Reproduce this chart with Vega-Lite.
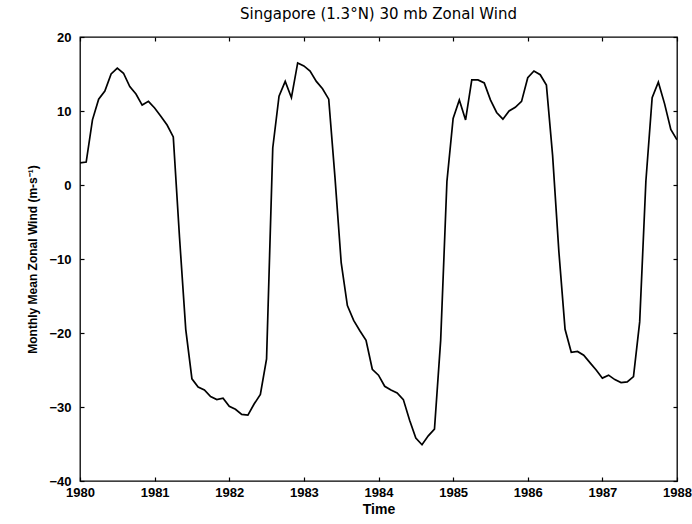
{
  "$schema": "https://vega.github.io/schema/vega-lite/v6.json",
  "width": 597,
  "height": 444,
  "autosize": {"type": "none"},
  "padding": {"left": 80, "top": 37, "right": 15, "bottom": 43},
  "background": "white",
  "title": {
    "text": "Singapore (1.3°N) 30 mb Zonal Wind",
    "font": "DejaVu Sans",
    "fontSize": 15,
    "fontWeight": "normal",
    "color": "black",
    "offset": 9
  },
  "config": {
    "view": {"stroke": "black", "strokeWidth": 1.3},
    "axis": {
      "grid": false,
      "domain": false,
      "labelFont": "Liberation Sans",
      "labelFontSize": 13,
      "labelFontWeight": "bold",
      "labelColor": "black",
      "titleFont": "Liberation Sans",
      "titleFontSize": 12,
      "titleFontWeight": "bold",
      "titleColor": "black"
    }
  },
  "data": {
    "values": [
      {"t": 1980.000, "u": 3.0}, {"t": 1980.083, "u": 3.1}, {"t": 1980.167, "u": 8.8},
      {"t": 1980.250, "u": 11.6}, {"t": 1980.333, "u": 12.7}, {"t": 1980.417, "u": 15.0},
      {"t": 1980.500, "u": 15.8}, {"t": 1980.583, "u": 15.1}, {"t": 1980.667, "u": 13.3},
      {"t": 1980.750, "u": 12.3}, {"t": 1980.833, "u": 10.8}, {"t": 1980.917, "u": 11.3},
      {"t": 1981.000, "u": 10.4}, {"t": 1981.083, "u": 9.3}, {"t": 1981.167, "u": 8.1},
      {"t": 1981.250, "u": 6.5}, {"t": 1981.333, "u": -7.0}, {"t": 1981.417, "u": -19.5},
      {"t": 1981.500, "u": -26.2}, {"t": 1981.583, "u": -27.3}, {"t": 1981.667, "u": -27.7},
      {"t": 1981.750, "u": -28.6}, {"t": 1981.833, "u": -29.0}, {"t": 1981.917, "u": -28.8},
      {"t": 1982.000, "u": -29.9}, {"t": 1982.083, "u": -30.3}, {"t": 1982.167, "u": -31.0},
      {"t": 1982.250, "u": -31.1}, {"t": 1982.333, "u": -29.6}, {"t": 1982.417, "u": -28.3},
      {"t": 1982.500, "u": -23.5}, {"t": 1982.583, "u": 5.0}, {"t": 1982.667, "u": 12.0},
      {"t": 1982.750, "u": 14.0}, {"t": 1982.833, "u": 11.8}, {"t": 1982.917, "u": 16.5},
      {"t": 1983.000, "u": 16.1}, {"t": 1983.083, "u": 15.4}, {"t": 1983.167, "u": 14.0},
      {"t": 1983.250, "u": 13.0}, {"t": 1983.333, "u": 11.6}, {"t": 1983.417, "u": 1.0},
      {"t": 1983.500, "u": -10.5}, {"t": 1983.583, "u": -16.3}, {"t": 1983.667, "u": -18.3},
      {"t": 1983.750, "u": -19.7}, {"t": 1983.833, "u": -21.0}, {"t": 1983.917, "u": -24.9},
      {"t": 1984.000, "u": -25.7}, {"t": 1984.083, "u": -27.2}, {"t": 1984.167, "u": -27.7},
      {"t": 1984.250, "u": -28.1}, {"t": 1984.333, "u": -29.0}, {"t": 1984.417, "u": -31.8},
      {"t": 1984.500, "u": -34.2}, {"t": 1984.583, "u": -35.1}, {"t": 1984.667, "u": -33.9},
      {"t": 1984.750, "u": -33.0}, {"t": 1984.833, "u": -21.0}, {"t": 1984.917, "u": 0.5},
      {"t": 1985.000, "u": 9.0}, {"t": 1985.083, "u": 11.5}, {"t": 1985.167, "u": 8.8},
      {"t": 1985.250, "u": 14.2}, {"t": 1985.333, "u": 14.2}, {"t": 1985.417, "u": 13.8},
      {"t": 1985.500, "u": 11.5}, {"t": 1985.583, "u": 9.8}, {"t": 1985.667, "u": 8.9},
      {"t": 1985.750, "u": 10.0}, {"t": 1985.833, "u": 10.5}, {"t": 1985.917, "u": 11.3},
      {"t": 1986.000, "u": 14.5}, {"t": 1986.083, "u": 15.4}, {"t": 1986.167, "u": 14.9},
      {"t": 1986.250, "u": 13.5}, {"t": 1986.333, "u": 4.0}, {"t": 1986.417, "u": -9.0},
      {"t": 1986.500, "u": -19.5}, {"t": 1986.583, "u": -22.6}, {"t": 1986.667, "u": -22.5},
      {"t": 1986.750, "u": -23.0}, {"t": 1986.833, "u": -24.0}, {"t": 1986.917, "u": -25.0},
      {"t": 1987.000, "u": -26.1}, {"t": 1987.083, "u": -25.7}, {"t": 1987.167, "u": -26.3},
      {"t": 1987.250, "u": -26.7}, {"t": 1987.333, "u": -26.6}, {"t": 1987.417, "u": -25.9},
      {"t": 1987.500, "u": -18.5}, {"t": 1987.583, "u": 0.5}, {"t": 1987.667, "u": 11.8},
      {"t": 1987.750, "u": 13.9}, {"t": 1987.833, "u": 11.0}, {"t": 1987.917, "u": 7.5},
      {"t": 1988.000, "u": 6.1}
    ]
  },
  "layer": [
    {
      "mark": {"type": "line", "color": "black", "strokeWidth": 1.7, "clip": true},
      "encoding": {
        "x": {
          "field": "t", "type": "quantitative",
          "scale": {"domain": [1980, 1988], "nice": false, "zero": false},
          "axis": {"title": "Time", "titleFontSize": 14, "values": [1980, 1981, 1982, 1983, 1984, 1985, 1986, 1987, 1988],
                   "format": "d", "ticks": false, "labelPadding": 5, "titlePadding": 3, "labelFlush": false}
        },
        "y": {
          "field": "u", "type": "quantitative",
          "scale": {"domain": [-40, 20], "nice": false, "zero": false},
          "axis": {"title": "Monthly Mean Zonal Wind (m-s⁻¹)", "values": [-40, -30, -20, -10, 0, 10, 20],
                   "ticks": false, "labelPadding": 9, "titlePadding": 9}
        }
      }
    },
    {
      "mark": {"type": "line", "opacity": 0},
      "encoding": {
        "x": {
          "field": "t", "type": "quantitative",
          "axis": {"orient": "top", "title": null, "labels": false, "ticks": true, "tickSize": 4,
                   "tickColor": "black", "tickWidth": 1.2, "offset": -4,
                   "values": [1980, 1981, 1982, 1983, 1984, 1985, 1986, 1987, 1988]}
        },
        "y": {
          "field": "u", "type": "quantitative",
          "axis": {"orient": "right", "title": null, "labels": false, "ticks": true, "tickSize": 4,
                   "tickColor": "black", "tickWidth": 1.2, "offset": -4,
                   "values": [-40, -30, -20, -10, 0, 10, 20]}
        }
      }
    },
    {
      "mark": {"type": "line", "opacity": 0},
      "encoding": {
        "x": {
          "field": "t", "type": "quantitative",
          "axis": {"orient": "bottom", "title": null, "labels": false, "ticks": true, "tickSize": 4,
                   "tickColor": "black", "tickWidth": 1.2, "offset": -4,
                   "values": [1980, 1981, 1982, 1983, 1984, 1985, 1986, 1987, 1988]}
        },
        "y": {
          "field": "u", "type": "quantitative",
          "axis": {"orient": "left", "title": null, "labels": false, "ticks": true, "tickSize": 4,
                   "tickColor": "black", "tickWidth": 1.2, "offset": -4,
                   "values": [-40, -30, -20, -10, 0, 10, 20]}
        }
      }
    }
  ],
  "resolve": {"axis": {"x": "independent", "y": "independent"}}
}
